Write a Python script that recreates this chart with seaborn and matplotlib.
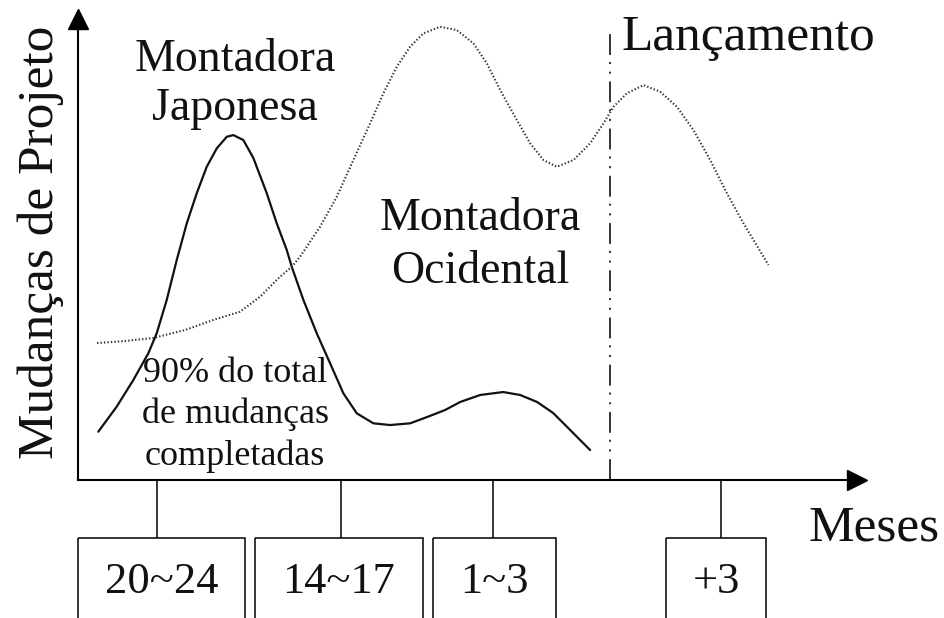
import matplotlib
matplotlib.use("Agg")
import matplotlib.pyplot as plt
from matplotlib.patches import Rectangle
import seaborn as sns

# ============ DATA ============

# Montadora Japonesa - solid curve
jp_x = [2.57, 4.90, 7.01, 8.91, 9.97, 11.24, 12.51, 13.78, 15.04, 16.31, 17.58,
        18.85, 19.68, 20.95, 22.22, 23.92, 25.18, 26.45, 27.08, 28.56, 30.25,
        31.94, 33.62, 35.32, 37.43, 39.54, 42.08, 44.23, 46.51, 48.42, 50.95,
        53.87, 56.02, 58.17, 60.20, 61.98, 63.62, 64.89]
jp_y = [10.28, 15.60, 21.28, 26.96, 31.21, 38.30, 46.81, 54.62, 61.00, 66.66, 70.57,
        73.04, 73.40, 72.34, 68.51, 61.00, 54.62, 48.94, 45.38, 38.30, 31.21,
        24.83, 18.45, 14.19, 12.06, 11.70, 12.06, 13.40, 14.89, 16.60, 18.09,
        18.72, 18.09, 16.60, 14.26, 11.28, 8.51, 6.38]

# Montadora Ocidental - dotted curve
oc_x = [2.41, 5.96, 9.51, 13.56, 17.11, 20.53, 23.07, 25.60, 27.08, 28.14, 30.67,
        32.79, 34.89, 37.01, 38.69, 40.39, 42.08, 43.76, 45.88, 48.00, 50.10,
        51.80, 53.49, 55.60, 57.29, 58.97, 60.67, 62.78, 64.89, 66.58, 67.85,
        69.54, 71.65, 73.76, 75.88, 77.98, 80.10, 82.22, 84.32, 87.49]
oc_y = [29.15, 29.57, 30.21, 31.91, 34.04, 35.81, 39.00, 43.26, 45.38, 47.51, 53.89,
        60.28, 68.09, 75.89, 82.28, 87.94, 92.19, 95.04, 96.45, 95.74, 92.91,
        88.66, 82.98, 76.60, 71.64, 68.09, 66.66, 68.09, 71.64, 75.89, 79.43,
        82.28, 84.04, 82.62, 79.43, 74.47, 68.09, 61.00, 54.62, 45.74]

# month markers on the time axis
tick_pos = [10.0, 33.3, 52.6, 81.5]
tick_labels = ["20~24", "14~17", "1~3", "+3"]
box_left = [0.0, 22.4, 45.0, 74.5]
box_right = [21.2, 43.7, 60.5, 87.2]

launch_x = 67.4

# ============ STYLE ============

sns.set_theme(style="ticks")
plt.rcParams["font.family"] = ["Liberation Serif", "DejaVu Serif"]
plt.rcParams["lines.scale_dashes"] = False

fig = plt.figure(figsize=(9.45, 6.18), dpi=100)
ax = fig.add_axes([78 / 945, 138 / 618, 779 / 945, 461 / 618])

# ============ CURVES ============

sns.lineplot(x=jp_x, y=jp_y, ax=ax, color="#111111", linewidth=1.6)
sns.lineplot(x=oc_x, y=oc_y, ax=ax, color="#333333", linewidth=1.5)
ax.lines[-1].set_dashes((1.0, 1.5))

# launch marker (dash-dot-dot)
ax.vlines(launch_x, 0, 95.1, color="#111111", linewidth=1.2,
          linestyles=[(0, (15, 5.5, 1.5, 5.5, 1.5, 5.0))])

# ============ AXES ============

ax.set_xlim(0, 98.7)
ax.set_ylim(0, 98.1)
sns.despine(ax=ax)
for side in ["left", "bottom"]:
    ax.spines[side].set_linewidth(1.5)
    ax.spines[side].set_color("black")

ax.plot(0, 1, marker="^", ms=14, color="black", transform=ax.transAxes, clip_on=False)
ax.plot(1, 0, marker=">", ms=14, color="black", transform=ax.transAxes, clip_on=False)

ax.set_yticks([])
ax.set_xticks(tick_pos)
ax.tick_params(axis="x", direction="out", length=42, width=1.1, color="black",
               labelbottom=False)

# boxes with the month ranges
for left, right, label in zip(box_left, box_right, tick_labels):
    ax.add_patch(Rectangle((left, -12.3), right - left, -25, fill=False,
                           edgecolor="black", linewidth=1.1, clip_on=False))
    ax.text((left + right) / 2, -24.0, label, ha="center", va="baseline",
            fontsize=32, color="#111111")

# ============ LABELS ============

ax.text(-3.2, 50.6, "Mudanças de Projeto", rotation=90, rotation_mode="anchor",
        ha="center", va="baseline", fontsize=37, color="#111111")
ax.text(92.5, -12.8, "Meses", ha="left", va="baseline", fontsize=37, color="#111111")
ax.text(68.8, 91.5, "Lançamento", ha="left", va="baseline", fontsize=37, color="#111111")

for txt, yb in zip(["Montadora", "Japonesa"], [87.0, 76.6]):
    ax.text(19.9, yb, txt, ha="center", va="baseline", fontsize=33, color="#111111")
for txt, yb in zip(["Montadora", "Ocidental"], [53.2, 41.9]):
    ax.text(51.0, yb, txt, ha="center", va="baseline", fontsize=33, color="#111111")
for txt, yb in zip(["90% do total", "de mudanças", "completadas"], [20.9, 12.1, 3.2]):
    ax.text(19.9, yb, txt, ha="center", va="baseline", fontsize=26, color="#111111")

fig.savefig("out.png", dpi=100)
